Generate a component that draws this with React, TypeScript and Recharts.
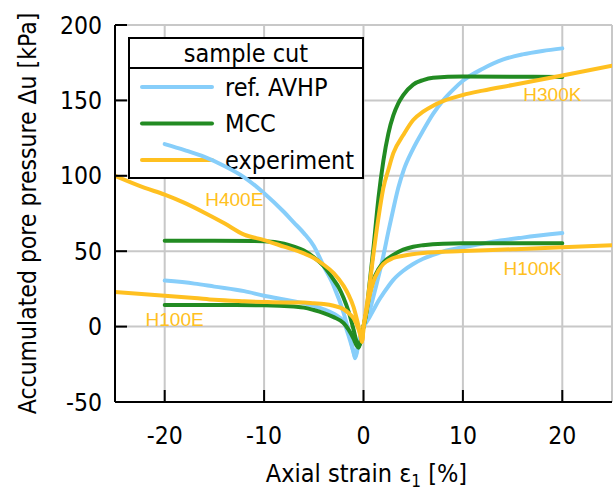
import { CartesianGrid, Customized, Line, LineChart, ReferenceDot, XAxis, YAxis } from 'recharts';

type Pt = [number, number];

// strain ε1 [%] vs accumulated pore pressure Δu [kPa]
// ref. AVHP
const avhpH300K: Pt[] = [[0, 0], [0.5, 8], [1, 20], [1.5, 33], [2, 47], [2.5, 63], [3, 78], [3.5, 92], [4, 103], [5, 118], [6, 130], [7, 141], [8, 150], [9, 157], [10, 163], [12, 171], [14, 177], [16, 180.5], [18, 182.8], [20, 184.5]];
const avhpH100K: Pt[] = [[0, 0], [0.5, 5], [1, 11], [1.5, 17], [2, 22], [3, 31], [4, 37], [5, 41.5], [6, 45], [7, 47.5], [8, 49.7], [10, 52.6], [13, 56.3], [16, 59], [20, 62]];
const avhpH400E: Pt[] = [[-20, 121], [-18, 117], [-16, 112.5], [-14, 106.5], [-12, 99], [-10, 88.5], [-8, 76], [-7, 69], [-6, 62], [-5, 53.5], [-4, 40], [-3, 27], [-2, 9], [-1.5, -3], [-1, -17], [-0.85, -21], [-0.6, -15], [-0.3, -6], [0, 0]];
const avhpH100E: Pt[] = [[-20, 30.5], [-17, 28.5], [-15, 26.5], [-12, 23.5], [-10, 20.5], [-8, 18], [-6, 15.5], [-4, 11.5], [-3, 8.5], [-2, 3], [-1.5, -6], [-1, -17], [-0.85, -20], [-0.6, -14], [-0.3, -6], [0, 0]];

// MCC
const mccH300K: Pt[] = [[0, 0], [0.3, 10], [0.6, 28], [1, 52], [1.5, 85], [2, 110], [2.5, 128], [3, 140], [3.5, 148], [4, 153.5], [5, 160.5], [6, 163.5], [7, 165], [10, 165.8], [20, 165.5]];
const mccH100K: Pt[] = [[0, 0], [0.3, 10], [0.6, 21], [1, 31], [1.5, 38], [2, 42.5], [3, 47.5], [4, 51], [5, 53], [6, 54], [8, 55], [10, 55.2], [20, 55.3]];
const mccH400E: Pt[] = [[-20, 57], [-15, 57], [-10, 56.6], [-8, 55], [-7, 53], [-6, 50.5], [-5, 46], [-4, 40], [-3, 31], [-2.5, 26], [-2, 19], [-1.5, 10], [-1, -2], [-0.7, -10], [-0.5, -13.5], [-0.3, -10], [0, 0]];
const mccH100E: Pt[] = [[-20, 14.3], [-15, 14.3], [-10, 14.2], [-7, 13.3], [-6, 12.6], [-5, 11], [-4, 9], [-3, 6.3], [-2, 2.3], [-1.5, -2], [-1, -8], [-0.7, -12.5], [-0.5, -14], [-0.3, -10], [0, 0]];

// experiment
const expH300K: Pt[] = [[0, 0], [0.5, 22], [1, 48], [1.5, 72], [2, 92], [2.5, 104], [3, 115], [4, 127], [5, 137], [6, 142.5], [7, 146.5], [8, 149.5], [10, 153.6], [12, 156.5], [15, 160.2], [20, 166.5], [25, 173]];
const expH100K: Pt[] = [[0, 0], [0.3, 10], [0.6, 20], [1, 30], [1.5, 37], [2, 41.5], [3, 45.5], [4, 47], [6, 48.8], [10, 50.1], [15, 51.3], [20, 52.6], [25, 54]];
const expH400E: Pt[] = [[-25, 100], [-22, 92], [-20, 87.5], [-18, 82], [-16, 75.5], [-14, 68.5], [-12, 61], [-10, 57.4], [-8, 53], [-6, 48.5], [-5, 45.5], [-4, 41], [-3, 35.5], [-2, 27], [-1.5, 21], [-1, 13], [-0.6, 3], [-0.3, -6], [-0.15, -10], [0, 0]];
const expH100E: Pt[] = [[-25, 23], [-22, 21.5], [-20, 20.5], [-17, 19], [-15, 17.8], [-12, 16.8], [-10, 16.3], [-8, 16], [-6, 16], [-5, 15.5], [-4, 15], [-3, 13.8], [-2, 11.5], [-1.5, 9], [-1, 5.5], [-0.6, 0], [-0.3, -6], [-0.15, -10], [0, 0]];

const testLabels = ['H400E', 'H100E', 'H300K', 'H100K'];
const labelSpots: Pt[] = [[-13, 84.3], [-19, 5.2], [19, 153.8], [17, 38.7]];

const xTicks = [-20, -10, 0, 10, 20];
const yTicks = [-50, 0, 50, 100, 150, 200];

const BLUE = '#87cefa';
const GREEN = '#228b22';
const GOLD = '#ffc020';
const FONT = "'DejaVu Sans Condensed', 'DejaVu Sans', sans-serif";

// plot frame in px
const LEFT = 115;
const RIGHT = 612;
const TOP = 25;
const BOTTOM = 402;
const TICK = 12;

const series = [
  { name: 'ref. AVHP', color: BLUE, curves: [avhpH300K, avhpH100K, avhpH400E, avhpH100E] },
  { name: 'MCC', color: GREEN, curves: [mccH300K, mccH100K, mccH400E, mccH100E] },
  { name: 'experiment', color: GOLD, curves: [expH300K, expH100K, expH400E, expH100E] },
];

const toRows = (pts: Pt[]) => pts.map(([x, y]) => ({ x, y }));

function KeyBox() {
  return (
    <g fontFamily={FONT} fontSize={25}>
      <rect x={129} y={38} width={234} height={140} fill="#fff" stroke="#000" strokeWidth={2} />
      <line x1={129} x2={363} y1={68} y2={68} stroke="#000" strokeWidth={2} />
      <text x={246} y={53} textAnchor="middle" dominantBaseline="central" fill="#000">sample cut</text>
      {series.map((s, i) => (
        <g key={s.name}>
          <line x1={142} x2={212} y1={87 + i * 36.5} y2={87 + i * 36.5} stroke={s.color} strokeWidth={4} strokeLinecap="round" />
          <text x={225} y={87 + i * 36.5} dominantBaseline="central" fill="#000">{s.name}</text>
        </g>
      ))}
    </g>
  );
}

// gnuplot-style ticks: short marks pointing into the plot
function BottomTick({ x, payload }: any) {
  const c = payload.coordinate;
  return (
    <g>
      <line x1={c} x2={c} y1={BOTTOM} y2={BOTTOM - TICK} stroke="#000" strokeWidth={2} />
      <text x={x} y={435} textAnchor="middle" dominantBaseline="central" fill="#000" fontFamily={FONT} fontSize={24.5}>{payload.value}</text>
    </g>
  );
}

function TopTick({ payload }: any) {
  const c = payload.coordinate;
  return <line x1={c} x2={c} y1={TOP} y2={TOP + TICK} stroke="#000" strokeWidth={2} />;
}

function LeftTick({ y, payload }: any) {
  const c = payload.coordinate;
  return (
    <g>
      <line x1={LEFT} x2={LEFT + TICK} y1={c} y2={c} stroke="#000" strokeWidth={2} />
      <text x={102} y={y} textAnchor="end" dominantBaseline="central" fill="#000" fontFamily={FONT} fontSize={24.5}>{payload.value}</text>
    </g>
  );
}

function RightTick({ payload }: any) {
  const c = payload.coordinate;
  return <line x1={RIGHT} x2={RIGHT - TICK} y1={c} y2={c} stroke="#000" strokeWidth={2} />;
}

function XTitle({ viewBox }: any) {
  const cx = viewBox.x + viewBox.width / 2 + 3;
  return (
    <text x={cx} y={482} textAnchor="middle" fontFamily={FONT} fontSize={25} fill="#000">
      Axial strain ε<tspan fontSize={17} dy={5}>1</tspan><tspan dy={-5}> [%]</tspan>
    </text>
  );
}

function YTitle({ viewBox }: any) {
  const cy = viewBox.y + viewBox.height / 2;
  return (
    <text x={27} y={cy} transform={`rotate(-90 27 ${cy})`} textAnchor="middle" dominantBaseline="central" fontFamily={FONT} fontSize={24.5} fill="#000">
      Accumulated pore pressure Δu [kPa]
    </text>
  );
}

const frame = { stroke: '#000', strokeWidth: 2 };

export default function App() {
  return (
    <div style={{ width: 614, height: 492, background: '#fff' }}>
      <style>{'body{margin:0}'}</style>
      <LineChart width={614} height={492} margin={{ top: TOP, right: 614 - RIGHT, bottom: 0, left: 0 }}>
        <CartesianGrid stroke="#c8c8c8" strokeWidth={2} />
        <XAxis type="number" dataKey="x" domain={[-25, 25]} ticks={xTicks} allowDataOverflow height={492 - BOTTOM}
          axisLine={frame} tickLine={false} tick={<BottomTick />} label={<XTitle />} />
        <XAxis xAxisId="top" orientation="top" type="number" dataKey="x" domain={[-25, 25]} ticks={xTicks} allowDataOverflow height={0}
          axisLine={frame} tickLine={false} tick={<TopTick />} />
        <YAxis type="number" domain={[-50, 200]} ticks={yTicks} allowDataOverflow width={LEFT}
          axisLine={frame} tickLine={false} tick={<LeftTick />} label={<YTitle />} />
        <YAxis yAxisId="right" orientation="right" type="number" domain={[-50, 200]} ticks={yTicks} allowDataOverflow width={0}
          axisLine={frame} tickLine={false} tick={<RightTick />} />
        <Customized component={KeyBox} />
        {series.map((s) =>
          s.curves.map((c, j) => (
            <Line key={`${s.name}-${j}`} data={toRows(c)} dataKey="y" type="monotone" stroke={s.color} strokeWidth={4}
              strokeLinecap="round" dot={false} activeDot={false} isAnimationActive={false} />
          ))
        )}
        {testLabels.map((t, i) => (
          <ReferenceDot key={t} x={labelSpots[i][0]} y={labelSpots[i][1]} r={0} stroke="none" fill="none"
            label={{ value: t, position: 'center', fill: GOLD, fontSize: 19, fontFamily: 'Liberation Sans, sans-serif' }} />
        ))}
      </LineChart>
    </div>
  );
}
